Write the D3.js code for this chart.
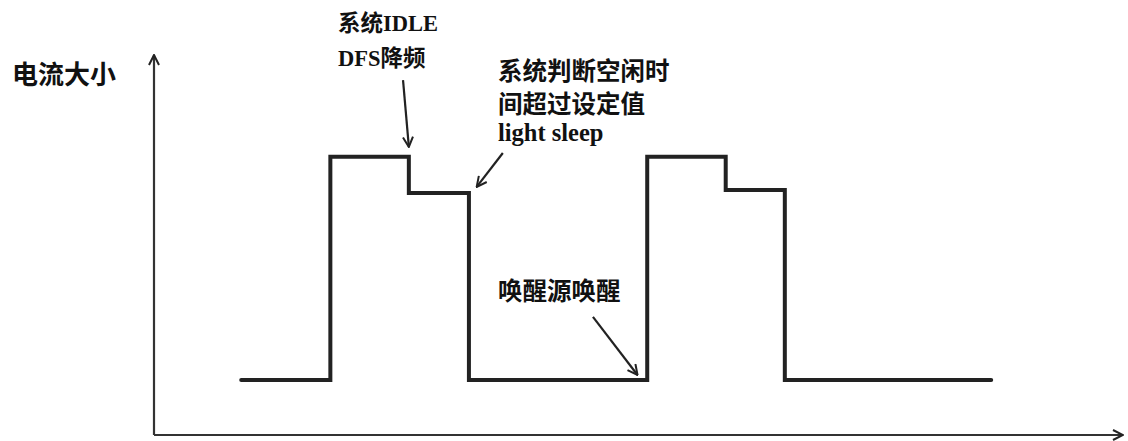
<!DOCTYPE html>
<html>
<head>
<meta charset="utf-8">
<script src="https://cdn.jsdelivr.net/npm/d3@7"></script>
<style>
  html, body { margin: 0; padding: 0; background: #fff; }
  svg { display: block; }
  .cjk { font-family: "Noto Sans CJK SC", sans-serif; font-weight: bold; }
  .mixed { font-family: "Liberation Serif", "Noto Sans CJK SC", serif; font-weight: bold; }
</style>
</head>
<body>
<svg id="chart"></svg>
<script>
const W = 1128, H = 441;

// step current profile (time, level), held until next time
const stepTimes  = [9.0, 18.2, 26.3, 32.5, 50.9, 59.0, 65.1, 86.4];
const stepLevels = [14.5, 73.2, 63.7, 14.5, 73.2, 64.5, 14.5, 14.5];

// annotation arrows: [fromT, fromLevel, toT, toLevel]
const arrowFromT = [25.7, 36.0, 45.3];
const arrowFromY = [93.4, 74.2, 31.1];
const arrowToT   = [26.3, 33.3, 49.9];
const arrowToY   = [75.8, 65.3, 15.8];

// annotation text lines
const noteLines = [
  ["系统IDLE", "DFS降频"],
  ["系统判断空闲时", "间超过设定值", "light sleep"],
  ["唤醒源唤醒"]
];

const svg = d3.select("#chart")
    .attr("width", W)
    .attr("height", H);

const x = d3.scaleLinear().domain([0, 100]).range([154, 1123]);
const y = d3.scaleLinear().domain([0, 100]).range([435, 55]);

const defs = svg.append("defs");
defs.append("marker")
    .attr("id", "head")
    .attr("viewBox", "0 0 12 12")
    .attr("refX", 11).attr("refY", 6)
    .attr("markerWidth", 12).attr("markerHeight", 12)
    .attr("markerUnits", "userSpaceOnUse")
    .attr("orient", "auto")
  .append("path")
    .attr("d", "M1,1 L11,6 L1,11")
    .attr("fill", "none")
    .attr("stroke", "#222")
    .attr("stroke-width", 2);

// axes
svg.append("line")
    .attr("x1", x(0)).attr("y1", y(0))
    .attr("x2", x(0)).attr("y2", y(100))
    .attr("stroke", "#333").attr("stroke-width", 2.2)
    .attr("marker-end", "url(#head)");
svg.append("line")
    .attr("x1", x(0)).attr("y1", y(0))
    .attr("x2", x(100)).attr("y2", y(0))
    .attr("stroke", "#333").attr("stroke-width", 2.2)
    .attr("marker-end", "url(#head)");

svg.append("text")
    .attr("class", "cjk")
    .attr("x", 12).attr("y", 84)
    .attr("font-size", 26)
    .attr("fill", "#111")
    .text("电流大小");

// step line
const pts = stepTimes.map((t, i) => [t, stepLevels[i]]);
const line = d3.line()
    .x(d => x(d[0]))
    .y(d => y(d[1]))
    .curve(d3.curveStepAfter);

svg.append("path")
    .attr("d", line(pts))
    .attr("fill", "none")
    .attr("stroke", "#222")
    .attr("stroke-width", 4)
    .attr("stroke-linejoin", "miter")
    .attr("stroke-linecap", "round");

// arrows
arrowFromT.forEach((t, i) => {
  svg.append("line")
      .attr("x1", x(t)).attr("y1", y(arrowFromY[i]))
      .attr("x2", x(arrowToT[i])).attr("y2", y(arrowToY[i]))
      .attr("stroke", "#222").attr("stroke-width", 2.2)
      .attr("marker-end", "url(#head)");
});

// notes
const notePos = [
  {x: 338, y: 31, dy: 35, size: 22.5},
  {x: 498, y: 80, dy: 33, size: 24.5},
  {x: 498, y: 300, dy: 0, size: 24.5}
];
noteLines.forEach((lines, i) => {
  const p = notePos[i];
  lines.forEach((s, j) => {
    svg.append("text")
        .attr("class", "mixed")
        .attr("x", p.x)
        .attr("y", j === 2 ? p.y + p.dy + 28 : p.y + j * p.dy)
        .attr("font-size", j === 2 ? 24.5 : p.size)
        .attr("fill", "#111")
        .text(s);
  });
});
</script>
</body>
</html>
